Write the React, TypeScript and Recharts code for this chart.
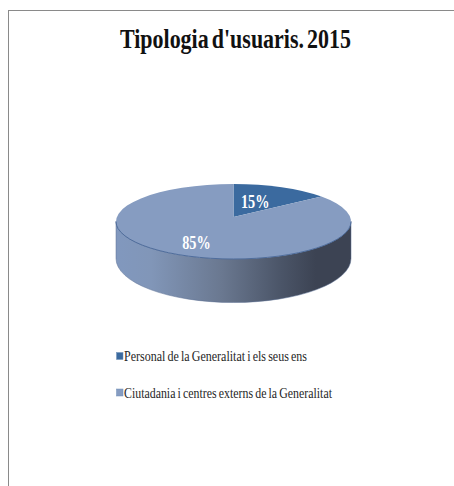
import React from "react";
import { PieChart, Pie, Legend } from "recharts";

const categories = [
  "Personal de la Generalitat i els seus ens",
  "Ciutadania i centres externs de la Generalitat",
];
const values = [15, 85];
const fills = ["#3b6a9f", "#869cc1"];
const titleText = "Tipologia d'usuaris. 2015";

const data = categories.map((name, i) => ({ name, value: values[i], fill: fills[i] }));

// Elliptical projection of the library's circular pie
const SQUASH = 37.5 / 117.5;
const APEX_SHIFT = 4.5; // apex sits above the ellipse centre (perspective)
const EDGE_DEPTH = 37;
const LOWER_RY = 44;
const LABEL_FRACTION = [0.52, 0.68];
const LABEL_NUDGE_X = [-3, 3];
const SERIF = "'Liberation Serif', serif";

function project(cx: number, cy: number, r: number, angle: number, frac = 1) {
  const a = ((90 - angle) * Math.PI) / 180;
  const ry = r * SQUASH;
  const off = APEX_SHIFT / ry;
  const dx = Math.sin(a);
  const dy = -Math.cos(a);
  const b = off * dy;
  const s = b + Math.sqrt(b * b + 1 - off * off);
  return { x: cx + r * dx * s * frac, y: cy - APEX_SHIFT + ry * dy * s * frac };
}

function SliceShape(props: any) {
  const { cx, cy, outerRadius: r, startAngle, endAngle, fill } = props;
  const ry = r * SQUASH;
  const p0 = project(cx, cy, r, startAngle);
  const p1 = project(cx, cy, r, endAngle);
  const large = Math.abs(startAngle - endAngle) > 180 ? 1 : 0;
  const top = `M${cx},${cy - APEX_SHIFT} L${p0.x},${p0.y} A${r},${ry} 0 ${large} 1 ${p1.x},${p1.y} Z`;
  const isLargest = Math.abs(startAngle - endAngle) > 180;
  const side = `M${cx - r},${cy} A${r},${ry} 0 0 0 ${cx + r},${cy} L${cx + r},${cy + EDGE_DEPTH} A${r},${LOWER_RY} 0 0 1 ${cx - r},${cy + EDGE_DEPTH} Z`;
  return (
    <g>
      {isLargest && <path d={side} fill="url(#sideGradient)" stroke="#5b6f92" strokeWidth={0.5} />}
      <path d={top} fill={fill} stroke="none" />
      {isLargest && (
        <path d={`M${cx - r},${cy} A${r},${ry} 0 0 0 ${cx + r},${cy}`} fill="none" stroke="#4f6d9c" strokeWidth={1} />
      )}
    </g>
  );
}

function SliceLabel(props: any) {
  const { cx, cy, outerRadius, midAngle, index, percent } = props;
  const p = project(cx, cy, outerRadius, midAngle, LABEL_FRACTION[index]);
  return (
    <text
      x={p.x + LABEL_NUDGE_X[index]}
      y={p.y + 6.5}
      textAnchor="middle"
      fill="#ffffff"
      fontFamily={SERIF}
      fontWeight="bold"
      fontSize={18}
      textLength={28.5}
      lengthAdjust="spacingAndGlyphs"
    >
      {`${Math.round(percent * 100)}%`}
    </text>
  );
}

const legendWidths = [183, 208];

function LegendContent(props: any) {
  const items = props.payload ?? [];
  return (
    <svg width={240} height={60} style={{ display: "block", overflow: "visible" }}>
      {items.map((it: any, i: number) => (
        <g key={it.value} transform={`translate(0,${i * 36.5})`}>
          <rect x={0.5} y={1.5} width={6.5} height={7} fill={it.color ?? it.payload?.fill} stroke="#6f8fb8" strokeWidth={0.5} />
          <text
            x={8}
            y={10}
            fontFamily={SERIF}
            fontSize={14.5}
            wordSpacing={-1}
            fill="#262626"
            textLength={legendWidths[i]}
            lengthAdjust="spacingAndGlyphs"
          >
            {it.value}
          </text>
        </g>
      ))}
    </svg>
  );
}

export default function App() {
  return (
    <div style={{ position: "absolute", left: 0, top: 0, width: 454, height: 486, overflow: "hidden", background: "#fff" }}>
      <div
        style={{
          position: "absolute",
          left: 8,
          top: 10,
          width: 446,
          height: 476,
          borderLeft: "1.5px solid #8a8a8a",
          borderTop: "1.5px solid #8a8a8a",
          boxSizing: "border-box",
        }}
      />
      <div style={{ position: "absolute", left: 0, top: 0 }}>
        <PieChart width={454} height={486} margin={{ top: 0, right: 0, bottom: 0, left: 0 }}>
          <defs>
            <linearGradient id="sideGradient" x1="0" y1="0" x2="1" y2="0">
              <stop offset="0%" stopColor="#8198be" />
              <stop offset="15%" stopColor="#8196b8" />
              <stop offset="45%" stopColor="#6a7890" />
              <stop offset="70%" stopColor="#4b5568" />
              <stop offset="85%" stopColor="#3c4353" />
              <stop offset="100%" stopColor="#3c4353" />
            </linearGradient>
          </defs>
          <text
            x={235.5}
            y={48}
            textAnchor="middle"
            fontFamily={SERIF}
            fontWeight="bold"
            fontSize={28}
            wordSpacing={-3}
            fill="#111111"
            textLength={231}
            lengthAdjust="spacingAndGlyphs"
          >
            {titleText}
          </text>
          <Pie
            data={data}
            dataKey="value"
            nameKey="name"
            cx={233.5}
            cy={221.5}
            outerRadius={117.5}
            startAngle={90}
            endAngle={-270}
            stroke="none"
            isAnimationActive={false}
            shape={SliceShape}
            label={SliceLabel}
            labelLine={false}
          />
          <Legend
            layout="horizontal"
            verticalAlign="bottom"
            itemSorter={null}
            content={LegendContent}
            wrapperStyle={{ position: "absolute", left: 116, top: 351, width: 240, bottom: "auto" }}
          />
        </PieChart>
      </div>
    </div>
  );
}
